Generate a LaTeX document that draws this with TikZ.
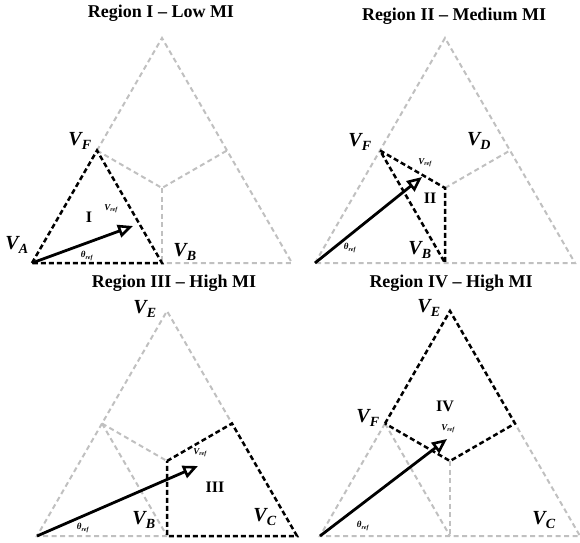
\documentclass[tikz,border=0pt]{standalone}
\usepackage{fontspec}
\setmainfont{Liberation Serif}
\usetikzlibrary{arrows.meta}

\definecolor{lightgrey}{RGB}{192,192,192}

\begin{document}
\begin{tikzpicture}[x=1pt, y=1pt,
  >={Triangle[open, length=15pt, width=13pt, line width=2.6pt]},
  greyseg/.style={draw=lightgrey, line width=2pt, dash pattern=on 5pt off 3.5pt},
  blackseg/.style={draw=black, line width=2.5pt, dash pattern=on 5pt off 3pt},
  vref/.style={->, line width=2.8pt},
  title/.style={font=\fontsize{18}{20}\selectfont\bfseries},
  vlab/.style={font=\fontsize{20}{22}\selectfont\bfseries\itshape, inner sep=0pt},
  region/.style={font=\fontsize{16}{18}\selectfont\bfseries, inner sep=0pt},
  tiny/.style={font=\fontsize{9}{10}\selectfont\bfseries\itshape, inner sep=0pt}]

\useasboundingbox (0,0) rectangle (580,542);

% Region I
\begin{scope}[shift={(32,279)}]
\coordinate (A1) at (0,0);
\coordinate (B1) at (130,0);
\coordinate (C1) at (260,0);
\coordinate (D1) at (195,112.5);
\coordinate (E1) at (130,225);
\coordinate (F1) at (65,112.5);
\coordinate (O1) at (130,75);
\coordinate (R1) at (101,37);

\node[title] (t1) at (129,250) {Region I -- Low MI};
\node[vlab] (vf1) at (48,122) {V\textsubscript{F}};
\node[vlab] (va1) at (-15,18) {V\textsubscript{A}};
\node[vlab] (vb1) at (153,11) {V\textsubscript{B}};
\node[region] (r1) at (57,46) {I};
\node[tiny] (vr1) at (79,54) {V\textsubscript{ref}};
\node[tiny] (th1) at (55,7) {θ\textsubscript{ref}};

\draw[greyseg] (F1) -- (E1) -- (D1) -- (C1) -- (B1);
\draw[greyseg] (F1) -- (O1) -- (D1);
\draw[greyseg] (O1) -- (B1);
\draw[blackseg] (A1) -- (F1) -- (B1) -- cycle;
\draw[vref] (A1) -- (R1);
\end{scope}

% Region II
\begin{scope}[shift={(315,279)}]
\coordinate (A2) at (0,0);
\coordinate (B2) at (130,0);
\coordinate (C2) at (260,0);
\coordinate (D2) at (195,112.5);
\coordinate (E2) at (130,225);
\coordinate (F2) at (65,112.5);
\coordinate (O2) at (130,75);
\coordinate (R2) at (107,86);

\node[title] (t2) at (139,247) {Region II -- Medium MI};
\node[vlab] (vf2) at (45,121) {V\textsubscript{F}};
\node[vlab] (vd2) at (164,122) {V\textsubscript{D}};
\node[vlab] (vb2) at (105,13) {V\textsubscript{B}};
\node[region] (r2) at (115,65) {II};
\node[tiny] (vr2) at (110,100) {V\textsubscript{ref}};
\node[tiny] (th2) at (35,15) {θ\textsubscript{ref}};

\draw[greyseg] (A2) -- (F2) -- (E2) -- (D2) -- (C2) -- (A2);
\draw[greyseg] (O2) -- (D2);
\draw[blackseg] (F2) -- (O2) -- (B2) -- cycle;
\draw[vref] (A2) -- (R2);
\end{scope}

% Region III
\begin{scope}[shift={(37,6)}]
\coordinate (A3) at (0,0);
\coordinate (B3) at (130,0);
\coordinate (C3) at (260,0);
\coordinate (D3) at (195,112.5);
\coordinate (E3) at (130,225);
\coordinate (F3) at (65,112.5);
\coordinate (O3) at (130,75);
\coordinate (R3) at (161,70);

\node[title] (t3) at (137,253) {Region III -- High MI};
\node[vlab] (ve3) at (108,227) {V\textsubscript{E}};
\node[vlab] (vb3) at (107,16) {V\textsubscript{B}};
\node[vlab] (vc3) at (228,19) {V\textsubscript{C}};
\node[region] (r3) at (178,49) {III};
\node[tiny] (vr3) at (163,83) {V\textsubscript{ref}};
\node[tiny] (th3) at (46,8) {θ\textsubscript{ref}};

\draw[greyseg] (B3) -- (A3) -- (F3) -- (E3) -- (D3);
\draw[greyseg] (F3) -- (O3);
\draw[greyseg] (F3) -- (B3);
\draw[blackseg] (O3) -- (D3) -- (C3) -- (B3) -- cycle;
\draw[vref] (A3) -- (R3);
\end{scope}

% Region IV
\begin{scope}[shift={(320,6)}]
\coordinate (A4) at (0,0);
\coordinate (B4) at (130,0);
\coordinate (C4) at (260,0);
\coordinate (D4) at (195,112.5);
\coordinate (E4) at (130,225);
\coordinate (F4) at (65,112.5);
\coordinate (O4) at (130,75);
\coordinate (R4) at (127,97);

\node[title] (t4) at (131,253) {Region IV -- High MI};
\node[vlab] (ve4) at (109,228) {V\textsubscript{E}};
\node[vlab] (vf4) at (48,118) {V\textsubscript{F}};
\node[vlab] (vc4) at (224,16) {V\textsubscript{C}};
\node[region] (r4) at (125,130) {IV};
\node[tiny] (vr4) at (128,107) {V\textsubscript{ref}};
\node[tiny] (th4) at (43,10) {θ\textsubscript{ref}};

\draw[greyseg] (F4) -- (A4) -- (C4) -- (D4);
\draw[greyseg] (O4) -- (B4);
\draw[greyseg] (F4) -- (B4);
\draw[blackseg] (F4) -- (E4) -- (D4) -- (O4) -- cycle;
\draw[vref] (A4) -- (R4);
\end{scope}

\end{tikzpicture}
\end{document}
